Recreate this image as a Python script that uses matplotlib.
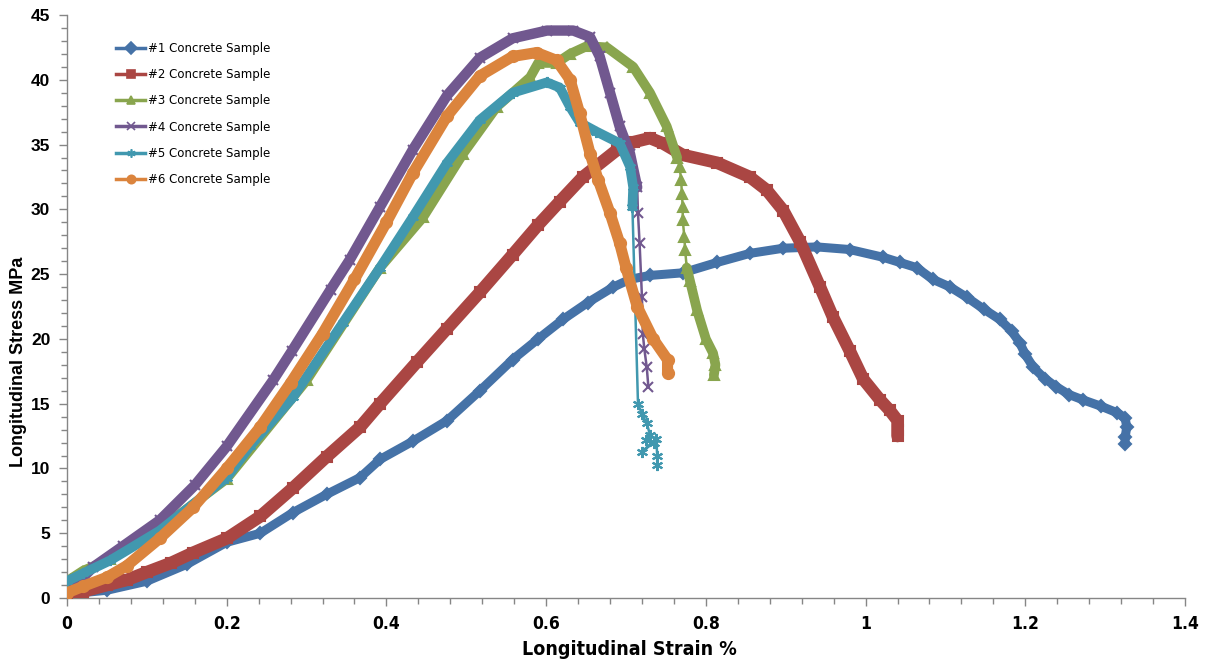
import matplotlib
matplotlib.use("Agg")
import matplotlib.pyplot as plt
from matplotlib import font_manager
from matplotlib.lines import Line2D
from matplotlib.ticker import MultipleLocator, FuncFormatter

# stress-strain readings (strain %, stress MPa)
x1 = [0, 0.05, 0.1, 0.15, 0.2, 0.242, 0.283, 0.325, 0.367, 0.392, 0.433, 0.476, 0.517,
      0.558, 0.59, 0.621, 0.652, 0.684, 0.705, 0.73, 0.771, 0.814, 0.855, 0.897, 0.939,
      0.98, 1.022, 1.043, 1.064, 1.084, 1.106, 1.127, 1.148, 1.168, 1.183, 1.193, 1.2,
      1.21, 1.225, 1.239, 1.255, 1.272, 1.295, 1.315, 1.325, 1.327, 1.325, 1.325]
y1 = [0.3, 0.6, 1.3, 2.6, 4.3, 5.0, 6.6, 8.0, 9.3, 10.7, 12.1, 13.7, 16.0,
      18.4, 20.0, 21.5, 22.8, 24.0, 24.6, 24.9, 25.1, 25.9, 26.6, 27.0, 27.1,
      26.9, 26.3, 25.9, 25.5, 24.6, 24.0, 23.2, 22.3, 21.5, 20.6, 19.7, 18.8,
      17.8, 16.9, 16.3, 15.7, 15.3, 14.8, 14.3, 13.9, 13.2, 12.4, 11.9]

x2 = [0, 0.02, 0.05, 0.075, 0.1, 0.13, 0.158, 0.2, 0.242, 0.283, 0.325, 0.367, 0.392,
      0.438, 0.476, 0.517, 0.558, 0.59, 0.617, 0.646, 0.689, 0.71, 0.73, 0.746, 0.771,
      0.814, 0.855, 0.876, 0.897, 0.918, 0.943, 0.959, 0.98, 0.997, 1.018, 1.03, 1.04,
      1.04, 1.04]
y2 = [0.2, 0.5, 1.0, 1.4, 2.0, 2.7, 3.5, 4.6, 6.3, 8.5, 10.9, 13.2, 15.0,
      18.2, 20.8, 23.6, 26.5, 28.8, 30.6, 32.5, 34.6, 35.2, 35.5, 35.1, 34.2,
      33.6, 32.5, 31.5, 29.9, 27.5, 24.0, 21.7, 19.1, 16.9, 15.3, 14.5, 13.7,
      13.0, 12.5]

x3 = [0.005, 0.02, 0.054, 0.116, 0.2, 0.3, 0.392, 0.446, 0.496, 0.538, 0.58, 0.59,
      0.613, 0.63, 0.651, 0.676, 0.709, 0.73, 0.751, 0.764, 0.767, 0.769, 0.77, 0.771,
      0.771, 0.773, 0.774, 0.776, 0.78, 0.789, 0.8, 0.809, 0.812, 0.81]
y3 = [1.5, 2.1, 3.0, 5.3, 9.2, 16.8, 25.5, 29.4, 34.3, 37.9, 40.2, 41.3,
      41.3, 42.0, 42.6, 42.5, 41.0, 39.0, 36.4, 34.0, 33.3, 32.3, 31.2, 30.2,
      29.2, 27.9, 26.9, 25.5, 24.5, 22.2, 20.0, 18.9, 18.0, 17.2]

x4 = [0, 0.02, 0.033, 0.07, 0.116, 0.16, 0.2, 0.258, 0.282, 0.33, 0.354, 0.392, 0.433,
      0.476, 0.517, 0.558, 0.601, 0.634, 0.655, 0.667, 0.68, 0.692, 0.705, 0.714,
      0.715, 0.717, 0.72, 0.721, 0.723, 0.726, 0.728]
y4 = [0.5, 1.6, 2.4, 4.0, 6.0, 8.7, 11.7, 16.8, 19.1, 23.8, 26.1, 30.2, 34.6,
      38.8, 41.7, 43.2, 43.8, 43.8, 43.3, 41.8, 39.0, 36.4, 34.3, 31.7,
      29.7, 27.4, 23.2, 20.4, 19.2, 17.8, 16.3]

x5 = [0, 0.02, 0.054, 0.116, 0.2, 0.229, 0.283, 0.345, 0.392, 0.433, 0.476, 0.517,
      0.558, 0.601, 0.617, 0.63, 0.642, 0.663, 0.692, 0.705, 0.709, 0.708, 0.715, 0.72,
      0.726, 0.73, 0.725, 0.735, 0.72, 0.738, 0.739, 0.739]
y5 = [1.3, 1.9, 2.9, 5.2, 9.3, 11.7, 15.5, 21.2, 25.5, 29.4, 33.6, 36.9,
      39.0, 39.8, 39.4, 37.9, 36.7, 36.0, 35.1, 33.3, 31.7, 30.2, 15.0, 14.2,
      13.5, 12.6, 12.2, 12.0, 11.3, 12.3, 11.0, 10.3]

x6 = [0, 0.02, 0.05, 0.075, 0.116, 0.158, 0.2, 0.242, 0.28, 0.32, 0.36, 0.4, 0.433,
      0.476, 0.517, 0.558, 0.588, 0.613, 0.63, 0.642, 0.655, 0.665, 0.68, 0.692, 0.7,
      0.714, 0.734, 0.752, 0.752]
y6 = [0.4, 0.9, 1.6, 2.5, 4.6, 7.0, 10.0, 13.2, 16.6, 20.4, 24.6, 29.0, 32.8,
      37.2, 40.3, 41.8, 42.1, 41.5, 40.0, 37.4, 34.3, 32.3, 29.7, 27.4, 25.5,
      22.5, 20.0, 18.4, 17.4]

labels = ["#1 Concrete Sample", "#2 Concrete Sample", "#3 Concrete Sample",
          "#4 Concrete Sample", "#5 Concrete Sample", "#6 Concrete Sample"]

colors = ["#4572A7", "#AA4643", "#89A54E", "#71588F", "#4198AF", "#DB843D"]
markers = ["D", "s", "^", "x", (6, 2, 0), "o"]
msizes = [6, 7, 7, 7, 8, 8]
band_lw = [6.5, 9, 7, 7.5, 7, 8]
# index ranges drawn as a dense band (rest is a thin line with markers)
bands = [[(0, None)], [(0, None)], [(0, 20), (27, None)], [(0, 24)], [(0, 22)], [(0, None)]]

xs = [x1, x2, x3, x4, x5, x6]
ys = [y1, y2, y3, y4, y5, y6]

# narrow font for the x axis text if there is one
names = {f.name for f in font_manager.fontManager.ttflist}
if "Liberation Sans Narrow" in names:
    narrow = dict(family="Liberation Sans Narrow", stretch="normal")
else:
    narrow = dict(family="DejaVu Sans", stretch="condensed")
yfont = "Liberation Sans" if "Liberation Sans" in names else "DejaVu Sans"

fig = plt.figure(figsize=(12.07, 6.67), dpi=100)
ax = fig.add_axes([0.0555, 0.1034, 0.9263, 0.8741])

for i in range(6):
    c = colors[i]
    ax.plot(xs[i], ys[i], color=c, lw=1.8, marker=markers[i], ms=msizes[i],
            mfc=c, mec=c, mew=1.5, zorder=3 + i)
    for a, b in bands[i]:
        ax.plot(xs[i][a:b], ys[i][a:b], color=c, lw=band_lw[i],
                solid_capstyle="round", solid_joinstyle="round", zorder=3 + i)

ax.set_xlim(0, 1.4)
ax.set_ylim(0, 45)
ax.xaxis.set_major_locator(MultipleLocator(0.2))
ax.xaxis.set_minor_locator(MultipleLocator(0.04))
ax.yaxis.set_major_locator(MultipleLocator(5))
ax.yaxis.set_minor_locator(MultipleLocator(1))
ax.xaxis.set_major_formatter(FuncFormatter(lambda v, p: "%g" % round(v, 2)))

for s in ["top", "right"]:
    ax.spines[s].set_visible(False)
for s in ["left", "bottom"]:
    ax.spines[s].set_color("#868686")
    ax.spines[s].set_linewidth(1.0)

ax.tick_params(which="major", length=6, color="#868686", width=1, pad=6)
ax.tick_params(which="minor", length=4, color="#868686", width=1)

fig.canvas.draw()
for t in ax.get_xticklabels():
    t.set_fontfamily(narrow["family"])
    t.set_fontstretch(narrow["stretch"])
    t.set_fontweight("bold")
    t.set_fontsize(12.5)
for t in ax.get_yticklabels():
    t.set_fontfamily(yfont)
    t.set_fontweight("bold")
    t.set_fontsize(12.5)

ax.set_xlabel("Longitudinal Strain %", fontsize=14, fontweight="bold",
              family=narrow["family"], stretch=narrow["stretch"])
ax.xaxis.set_label_coords(0.503, -0.072)
ax.set_ylabel("Longitudinal Stress MPa", fontsize=13, fontweight="bold", family=yfont)
ax.yaxis.set_label_coords(-0.036, 0.405)

handles = [Line2D([], [], color=colors[i], lw=2.5, marker=markers[i], ms=6,
                  mfc=colors[i], mec=colors[i], mew=1.2) for i in range(6)]
leg = ax.legend(handles, labels, loc="upper left", bbox_to_anchor=(0.04, 0.962),
                frameon=False, numpoints=1, handlelength=2.4, handletextpad=0.3,
                labelspacing=1.12, borderaxespad=0,
                prop={"family": ["DejaVu Sans"], "size": 8.5})

fig.savefig("out.png", dpi=100)
